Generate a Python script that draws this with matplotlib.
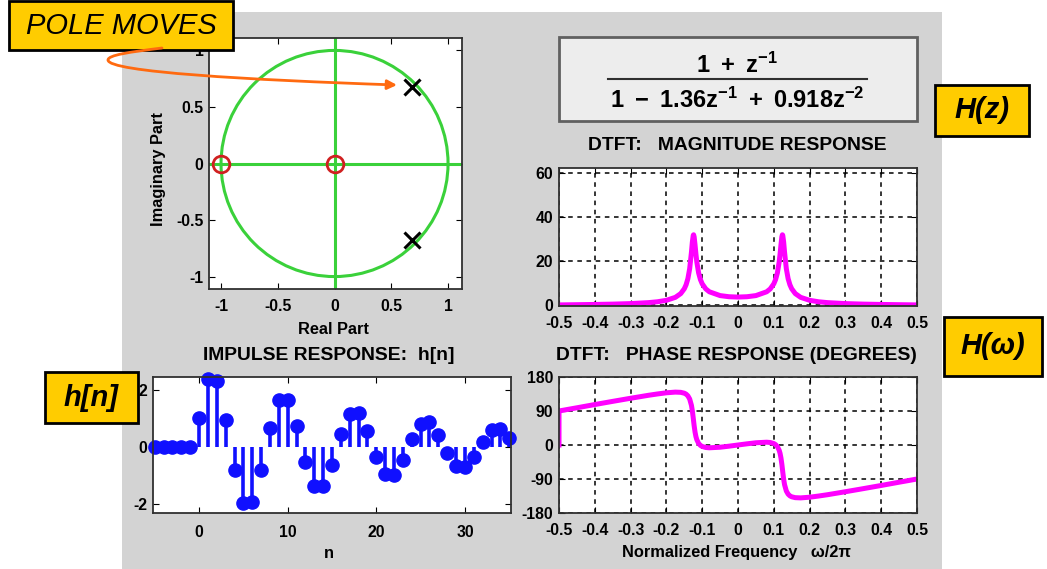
import numpy as np
import matplotlib
matplotlib.use("Agg")
import matplotlib.pyplot as plt
from matplotlib.patches import Rectangle, Circle, FancyArrowPatch
from matplotlib.path import Path

plt.rcParams['font.family'] = ['Liberation Sans', 'DejaVu Sans']
plt.rcParams['font.weight'] = 'bold'
plt.rcParams['axes.unicode_minus'] = False
plt.rcParams['mathtext.fontset'] = 'custom'
plt.rcParams['mathtext.rm'] = 'Liberation Sans:bold'
plt.rcParams['mathtext.bf'] = 'Liberation Sans:bold'
plt.rcParams['mathtext.it'] = 'Liberation Sans:bold:italic'

# ---- data ----
zeros_re = [-1.0, 0.0]
zeros_im = [0.0, 0.0]
poles_re = [0.68, 0.68]
poles_im = [0.675, -0.675]

n = list(range(-5, 36))
h = [0, 0, 0, 0, 0,
     1.00, 2.36, 2.29, 0.95, -0.81, -1.98, -1.94, -0.83, 0.66, 1.65,
     1.65, 0.72, -0.53, -1.38, -1.39, -0.63, 0.43, 1.16, 1.18, 0.54,
     -0.35, -0.97, -1.00, -0.47, 0.28, 0.81, 0.85, 0.41, -0.22, -0.68,
     -0.72, -0.35, 0.18, 0.57, 0.61, 0.30]

freq = [-0.5, -0.5, -0.475, -0.45, -0.4, -0.35, -0.3, -0.25, -0.225, -0.2,
        -0.175, -0.16, -0.15, -0.145, -0.14, -0.135, -0.13, -0.1275, -0.125,
        -0.124, -0.1225, -0.12, -0.1175, -0.115, -0.11, -0.105, -0.1, -0.09,
        -0.08, -0.05, -0.025,
        0.0,
        0.025, 0.05, 0.08, 0.09, 0.1, 0.105, 0.11, 0.115, 0.1175, 0.12,
        0.1225, 0.124, 0.125, 0.1275, 0.13, 0.135, 0.14, 0.145, 0.15, 0.16,
        0.175, 0.2, 0.225, 0.25, 0.3, 0.35, 0.4, 0.45, 0.475, 0.5]

magnitude = [0.0, 0.0, 0.05, 0.10, 0.21, 0.36, 0.60, 1.04, 1.43, 2.10,
             3.45, 5.16, 7.37, 9.19, 11.97, 16.52, 24.13, 28.74, 31.80,
             32.02, 31.10, 27.40, 23.17, 19.57, 14.60, 11.58, 9.62, 7.30,
             5.99, 4.25, 3.73,
             3.58,
             3.73, 4.25, 5.99, 7.30, 9.62, 11.58, 14.60, 19.57, 23.17, 27.40,
             31.10, 32.02, 31.80, 28.74, 24.13, 16.52, 11.97, 9.19, 7.37, 5.16,
             3.45, 2.10, 1.43, 1.04, 0.60, 0.36, 0.21, 0.10, 0.05, 0.0]

phase = [0.0, 90.0, 94.3, 98.5, 107.1, 115.5, 123.7, 131.6, 135.1, 138.2,
         140.0, 139.4, 137.1, 134.6, 130.1, 121.8, 104.8, 90.3, 71.2,
         63.0, 51.0, 34.2, 22.1, 13.9, 4.1, -1.0, -3.9, -6.6,
         -7.4, -5.9, -3.1,
         0.0,
         3.1, 5.9, 7.4, 6.6, 3.9, 1.0, -4.1, -13.9, -22.1, -34.2,
         -51.0, -63.0, -71.2, -90.3, -104.8, -121.8, -130.1, -134.6, -137.1, -139.4,
         -140.0, -138.2, -135.1, -131.6, -123.7, -115.5, -107.1, -98.5, -94.3, -90.0]

freq_ticks = [-0.5, -0.4, -0.3, -0.2, -0.1, 0, 0.1, 0.2, 0.3, 0.4, 0.5]
freq_labels = ['-0.5', '-0.4', '-0.3', '-0.2', '-0.1', '0', '0.1', '0.2', '0.3', '0.4', '0.5']

W, H = 1047, 569


def rect(l, t, r, b):
    return [l / W, 1 - b / H, (r - l) / W, (b - t) / H]


def fx(x):
    return x / W


def fy(y):
    return 1 - y / H


def matlab_axes(ax, xpad=7):
    ax.tick_params(direction='in', top=True, right=True, length=4,
                   labelsize=11.3, pad=4)
    ax.tick_params(axis='x', pad=xpad)
    for s in ax.spines.values():
        s.set_color('#303030')
        s.set_linewidth(1.3)


fig = plt.figure(figsize=(W / 100, H / 100), dpi=100)
fig.patch.set_facecolor('white')

# gray panel behind the plots
fig.add_artist(Rectangle((fx(122), fy(569)), fx(942 - 122), (569 - 12) / H,
                         transform=fig.transFigure, facecolor='#d3d3d3',
                         edgecolor='none', zorder=-5))

# ---- pole-zero plot ----
ax1 = fig.add_axes(rect(209, 38, 462, 289))
green = '#3ad13a'
ax1.add_patch(Circle((0, 0), 1, fill=False, color=green, lw=2.2))
ax1.axhline(0, color=green, lw=2.2)
ax1.axvline(0, color=green, lw=2.2)
ax1.plot(zeros_re, zeros_im, 'o', ms=12, mfc='none', mec='#d02020', mew=2)
ax1.plot(poles_re, poles_im, 'x', ms=11, color='black', mew=2.2)
ax1.set_xlim(-1.106, 1.123)
ax1.set_ylim(-1.11, 1.11)
ax1.set_xticks([-1, -0.5, 0, 0.5, 1])
ax1.set_xticklabels(['-1', '-0.5', '0', '0.5', '1'])
ax1.set_yticks([-1, -0.5, 0, 0.5, 1])
ax1.set_yticklabels(['-1', '-0.5', '0', '0.5', '1'])
matlab_axes(ax1, xpad=7)
fig.text(fx(158), fy(169), 'Imaginary Part', rotation=90, ha='center',
         va='center', fontsize=11.8)
fig.text(fx(333), fy(329), 'Real Part', ha='center', va='center', fontsize=11.8)

# ---- formula box ----
fig.add_artist(Rectangle((fx(559), fy(121)), fx(917 - 559), (121 - 37) / H,
                         transform=fig.transFigure, facecolor='#ededed',
                         edgecolor='#606060', lw=2, zorder=1))
fig.text(fx(737), fy(65), r'$\mathbf{1\ +\ z^{-1}}$', ha='center',
         va='center', fontsize=17)
fig.add_artist(plt.Line2D([fx(608), fx(867)], [fy(79), fy(79)],
                          transform=fig.transFigure, color='#303030', lw=1.5))
fig.text(fx(737), fy(100), r'$\mathbf{1\ -\ 1.36z^{-1}\ +\ 0.918z^{-2}}$',
         ha='center', va='center', fontsize=17)

# ---- magnitude ----
magenta = '#ff00ff'
grid_style = dict(color='black', linestyle=(0, (3, 3)), linewidth=1.1)
ax2 = fig.add_axes(rect(559, 168, 917, 306))
ax2.plot(freq, magnitude, color=magenta, lw=3.6)
ax2.set_xlim(-0.5, 0.5)
ax2.set_ylim(-0.5, 62.5)
ax2.set_xticks(freq_ticks)
ax2.set_xticklabels(freq_labels)
ax2.set_yticks([0, 20, 40, 60])
ax2.grid(True, **grid_style)
matlab_axes(ax2, xpad=7.5)
fig.text(fx(737), fy(146), 'DTFT:   MAGNITUDE RESPONSE', ha='center',
         va='center', fontsize=13.9)

# ---- phase ----
ax3 = fig.add_axes(rect(559, 377, 917, 513))
ax3.plot(freq, phase, color=magenta, lw=3.6)
ax3.set_xlim(-0.5, 0.5)
ax3.set_ylim(-180, 180)
ax3.set_xticks(freq_ticks)
ax3.set_xticklabels(freq_labels)
ax3.set_yticks([-180, -90, 0, 90, 180])
ax3.grid(True, **grid_style)
matlab_axes(ax3, xpad=7.5)
fig.text(fx(736), fy(355), 'DTFT:   PHASE RESPONSE (DEGREES)', ha='center',
         va='center', fontsize=13.9)
fig.text(fx(737), fy(552), 'Normalized Frequency   \u03c9/2\u03c0', ha='center',
         va='center', fontsize=11.8)

# ---- impulse response ----
ax4 = fig.add_axes(rect(153, 377, 511, 513))
markerline, stemlines, baseline = ax4.stem(n, h, basefmt=' ')
markerline.set_color('#1010ff')
markerline.set_markersize(9.5)
markerline.set_clip_on(False)
stemlines.set_color('#1010ff')
stemlines.set_linewidth(2.6)
ax4.set_xlim(-5.2, 35.2)
ax4.set_ylim(-2.32, 2.44)
ax4.set_xticks([0, 10, 20, 30])
ax4.set_yticks([-2, 0, 2])
matlab_axes(ax4, xpad=8.5)
fig.text(fx(329), fy(355), 'IMPULSE RESPONSE:  h[n]', ha='center',
         va='center', fontsize=13.9)
fig.text(fx(329), fy(553), 'n', ha='center', va='center', fontsize=11.8)

# ---- yellow callouts ----
callouts = [
    ((9, 1, 233, 50), 'POLE MOVES', 'normal'),
    ((935, 85, 1029, 136), 'H(z)', 'bold'),
    ((944, 317, 1042, 376), 'H(\u03c9)', 'bold'),
    ((45, 372, 138, 423), 'h[n]', 'bold'),
]
for (l, t, r, b), label, weight in callouts:
    fig.add_artist(Rectangle((fx(l), fy(b)), fx(r - l), (b - t) / H,
                             transform=fig.transFigure, facecolor='#ffcc00',
                             edgecolor='black', lw=2, zorder=10))
    fig.text(fx((l + r) / 2), fy((t + b) / 2), label, ha='center', va='center',
             fontsize=21, style='italic', weight=weight, zorder=11)

# orange arrow from the callout to the pole
verts = [(162, 48), (130, 52), (108, 55), (108, 60),
         (108, 72), (250, 80), (397, 85)]
codes = [Path.MOVETO, Path.CURVE4, Path.CURVE4, Path.CURVE4,
         Path.CURVE4, Path.CURVE4, Path.CURVE4]
arrow_path = Path([(fx(x), fy(y)) for x, y in verts], codes)
fig.add_artist(FancyArrowPatch(path=arrow_path, arrowstyle='-|>',
                               mutation_scale=14, color='#ff6a10', lw=2,
                               transform=fig.transFigure, zorder=12))

fig.savefig('out.png', dpi=100)
